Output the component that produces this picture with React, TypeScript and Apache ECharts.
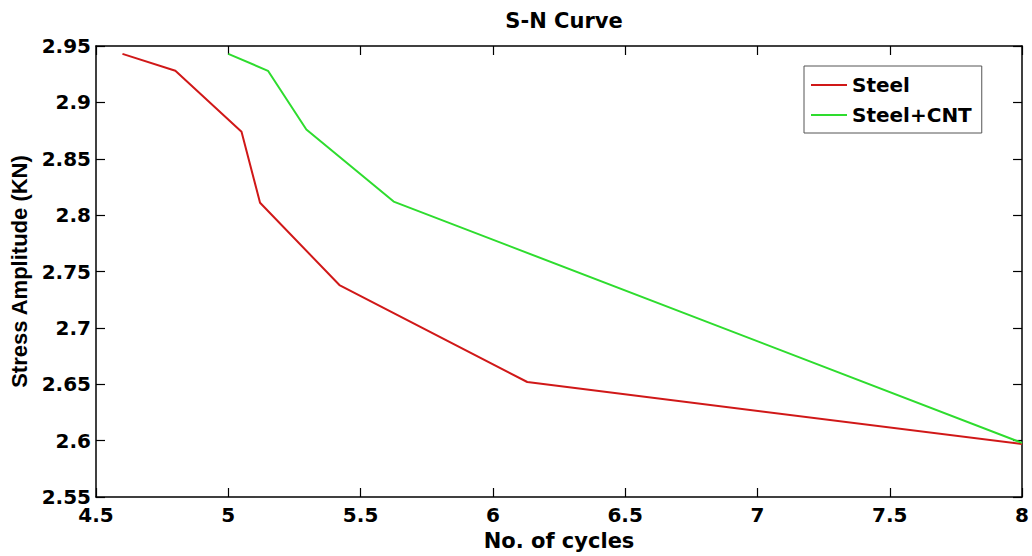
import React, { useEffect, useRef } from "react";
import * as echarts from "echarts";

const steelCycles = [4.6, 4.8, 5.05, 5.12, 5.42, 6.13, 8.0];
const steelStress = [2.943, 2.928, 2.874, 2.811, 2.738, 2.652, 2.597];
const cntCycles = [5.0, 5.15, 5.295, 5.625, 8.0];
const cntStress = [2.943, 2.928, 2.876, 2.812, 2.598];
const seriesNames = ["Steel", "Steel+CNT"];
const xTicks = { min: 4.5, max: 8, interval: 0.5 };
const yTicks = { min: 2.55, max: 2.95, interval: 0.05 };

const FONT = "DejaVu Sans";

export default function App() {
  const ref = useRef<HTMLDivElement>(null);
  useEffect(() => {
    document.body.style.margin = "0";
    const chart = echarts.init(ref.current!, null, { renderer: "svg" });
    const axisLine = { show: true, lineStyle: { color: "#000", width: 1.5 } };
    const tick = { show: true, inside: true, length: 9, lineStyle: { color: "#000", width: 1.2 } };
    chart.setOption({
      animation: false,
      backgroundColor: "#fff",
      title: {
        text: "S-N Curve",
        left: 559,
        textAlign: "center",
        top: 5,
        textStyle: { fontFamily: FONT, fontWeight: "bold", fontSize: 21, color: "#000" },
      },
      grid: { left: 96, right: 9, top: 46, bottom: 58 },
      legend: {
        data: seriesNames,
        orient: "vertical",
        left: 804,
        top: 66,
        padding: [9, 10, 8, 7],
        itemGap: 10,
        itemWidth: 36,
        itemHeight: 2,
        icon: "rect",
        borderColor: "#555",
        borderWidth: 1,
        backgroundColor: "#fff",
        textStyle: { fontFamily: FONT, fontWeight: "bold", fontSize: 20, color: "#000", lineHeight: 20, padding: [0, 0, 0, 0] },
      },
      xAxis: [
        {
          type: "value",
          ...xTicks,
          name: "No. of cycles",
          nameLocation: "middle",
          nameGap: 33,
          nameTextStyle: { fontFamily: FONT, fontWeight: "bold", fontSize: 21, color: "#000" },
          axisLine,
          axisTick: tick,
          axisLabel: { fontFamily: FONT, fontWeight: "bold", fontSize: 20, lineHeight: 16, color: "#000", margin: 10 },
          splitLine: { show: false },
        },
        {
          type: "value",
          ...xTicks,
          position: "top",
          axisLine,
          axisTick: tick,
          axisLabel: { show: false },
          splitLine: { show: false },
        },
      ],
      yAxis: [
        {
          type: "value",
          ...yTicks,
          name: "Stress Amplitude (KN)",
          nameLocation: "middle",
          nameGap: 62,
          nameTextStyle: { fontFamily: "Liberation Sans", fontWeight: "bold", fontSize: 22, color: "#000" },
          axisLine,
          axisTick: tick,
          axisLabel: { fontFamily: FONT, fontWeight: "bold", fontSize: 20, lineHeight: 16, color: "#000", margin: 5 },
          splitLine: { show: false },
        },
        {
          type: "value",
          ...yTicks,
          position: "right",
          axisLine,
          axisTick: tick,
          axisLabel: { show: false },
          splitLine: { show: false },
        },
      ],
      series: [
        {
          name: seriesNames[0],
          type: "line",
          symbol: "none",
          data: steelCycles.map((x, i) => [x, steelStress[i]]),
          lineStyle: { color: "#d01818", width: 2 },
          itemStyle: { color: "#d01818" },
        },
        {
          name: seriesNames[1],
          type: "line",
          symbol: "none",
          data: cntCycles.map((x, i) => [x, cntStress[i]]),
          lineStyle: { color: "#2edc2e", width: 2 },
          itemStyle: { color: "#2edc2e" },
        },
      ],
    });
    return () => chart.dispose();
  }, []);
  return <div ref={ref} style={{ width: 1032, height: 556 }} />;
}
